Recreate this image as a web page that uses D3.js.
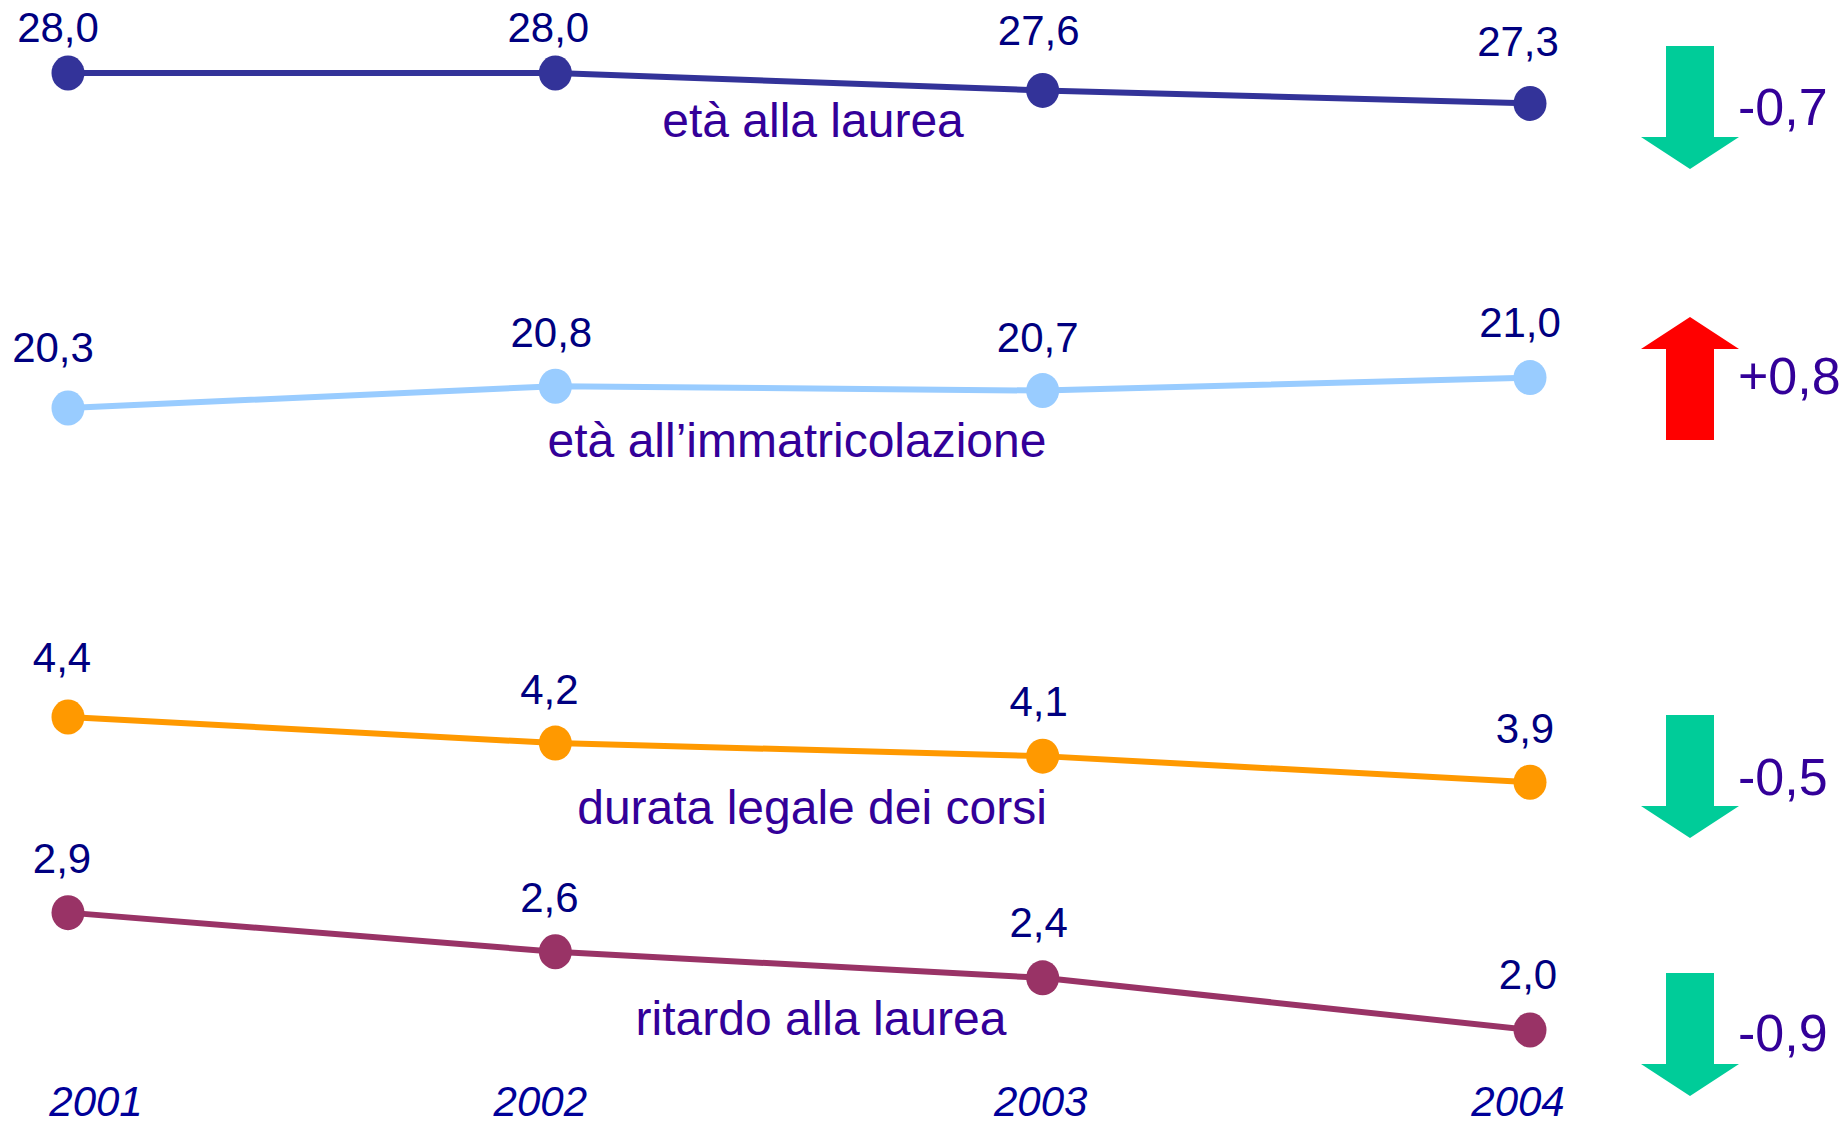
<!DOCTYPE html>
<html>
<head>
<meta charset="utf-8">
<script src="https://cdn.jsdelivr.net/npm/d3@7"></script>
<style>
html,body{margin:0;padding:0;background:#fff;}
svg{display:block;}
text{font-family:"Liberation Sans",Arial,Helvetica,sans-serif;}
</style>
</head>
<body>
<svg id="chart" width="1843" height="1125"></svg>
<script>
// ---- data ----
const years = [2001, 2002, 2003, 2004];
const seriesNames = ["età alla laurea", "età all’immatricolazione", "durata legale dei corsi", "ritardo alla laurea"];
const etaLaurea = [28.0, 28.0, 27.6, 27.3];
const etaImmatricolazione = [20.3, 20.8, 20.7, 21.0];
const durataLegale = [4.4, 4.2, 4.1, 3.9];
const ritardoLaurea = [2.9, 2.6, 2.4, 2.0];
const deltaLabels = ["-0,7", "+0,8", "-0,5", "-0,9"];
const deltaDirection = ["down", "up", "down", "down"];

// ---- layout (positions / styles, not data) ----
const seriesColors = ["#333399", "#99CCFF", "#FF9900", "#993366"];
const seriesPanel = ["top", "top", "bottom", "bottom"];
const labelDy = [[-31, -31, -45, -47], [-46, -39, -39, -41], [-45, -39, -40, -39], [-40, -40, -41, -41]];
const labelDx = [[-10, -7, -4, -12], [-15, -4, -5, -10], [-6, -6, -4, -5], [-6, -6, -4, -2]];
const nameAnchor = [[813, 137], [797, 457], [812, 824], [821, 1035]];
const yearDx = [28, -15, -2, -12];
const arrowTop = [46, 317, 715, 973];
const deltaBaseline = [125, 394, 795, 1051];

const svg = d3.select("#chart");

const x = d3.scaleLinear().domain([2001, 2004]).range([68, 1530]);
const yTop = d3.scaleLinear().domain([28, 20.3]).range([73, 408]);
const yBottom = d3.scaleLinear().domain([4.4, 2.0]).range([717, 1030]);
const fmt = v => d3.format(".1f")(v).replace(".", ",");

const allSeries = [etaLaurea, etaImmatricolazione, durataLegale, ritardoLaurea];

allSeries.forEach((vals, si) => {
  const y = seriesPanel[si] === "top" ? yTop : yBottom;
  const pts = vals.map((v, i) => ({ year: years[i], v, i }));
  const line = d3.line().x(d => x(d.year)).y(d => y(d.v));
  const g = svg.append("g").attr("class", "series");
  g.append("path").datum(pts)
    .attr("d", line)
    .attr("fill", "none")
    .attr("stroke", seriesColors[si])
    .attr("stroke-width", 6);
  g.selectAll("ellipse").data(pts).join("ellipse")
    .attr("cx", d => x(d.year))
    .attr("cy", d => y(d.v))
    .attr("rx", 16.5)
    .attr("ry", 17.5)
    .attr("fill", seriesColors[si]);
  g.selectAll("text.val").data(pts).join("text")
    .attr("class", "val")
    .attr("x", d => x(d.year) + labelDx[si][d.i])
    .attr("y", d => y(d.v) + labelDy[si][d.i])
    .attr("text-anchor", "middle")
    .attr("font-size", 42)
    .attr("fill", "#000080")
    .text(d => fmt(d.v));
  g.append("text")
    .attr("x", nameAnchor[si][0])
    .attr("y", nameAnchor[si][1])
    .attr("text-anchor", "middle")
    .attr("font-size", 48)
    .attr("fill", "#330099")
    .text(seriesNames[si]);
});

// year labels
svg.append("g").selectAll("text").data(years).join("text")
  .attr("x", (d, i) => x(d) + yearDx[i])
  .attr("y", 1116)
  .attr("text-anchor", "middle")
  .attr("font-size", 42)
  .attr("font-style", "italic")
  .attr("fill", "#000099")
  .text(d => d);

// change arrows
const ax = 1690, shaftHalf = 24, headHalf = 49, shaftLen = 91, headLen = 32;
deltaLabels.forEach((lab, i) => {
  const t = arrowTop[i];
  const p = d3.path();
  if (deltaDirection[i] === "down") {
    p.moveTo(ax - shaftHalf, t);
    p.lineTo(ax + shaftHalf, t);
    p.lineTo(ax + shaftHalf, t + shaftLen);
    p.lineTo(ax + headHalf, t + shaftLen);
    p.lineTo(ax, t + shaftLen + headLen);
    p.lineTo(ax - headHalf, t + shaftLen);
    p.lineTo(ax - shaftHalf, t + shaftLen);
  } else {
    p.moveTo(ax, t);
    p.lineTo(ax + headHalf, t + headLen);
    p.lineTo(ax + shaftHalf, t + headLen);
    p.lineTo(ax + shaftHalf, t + headLen + shaftLen);
    p.lineTo(ax - shaftHalf, t + headLen + shaftLen);
    p.lineTo(ax - shaftHalf, t + headLen);
    p.lineTo(ax - headHalf, t + headLen);
  }
  p.closePath();
  svg.append("path")
    .attr("d", p.toString())
    .attr("fill", deltaDirection[i] === "down" ? "#00CC99" : "#FF0000");
  svg.append("text")
    .attr("x", 1738)
    .attr("y", deltaBaseline[i])
    .attr("font-size", 52)
    .attr("fill", "#330099")
    .text(lab);
});
</script>
</body>
</html>
